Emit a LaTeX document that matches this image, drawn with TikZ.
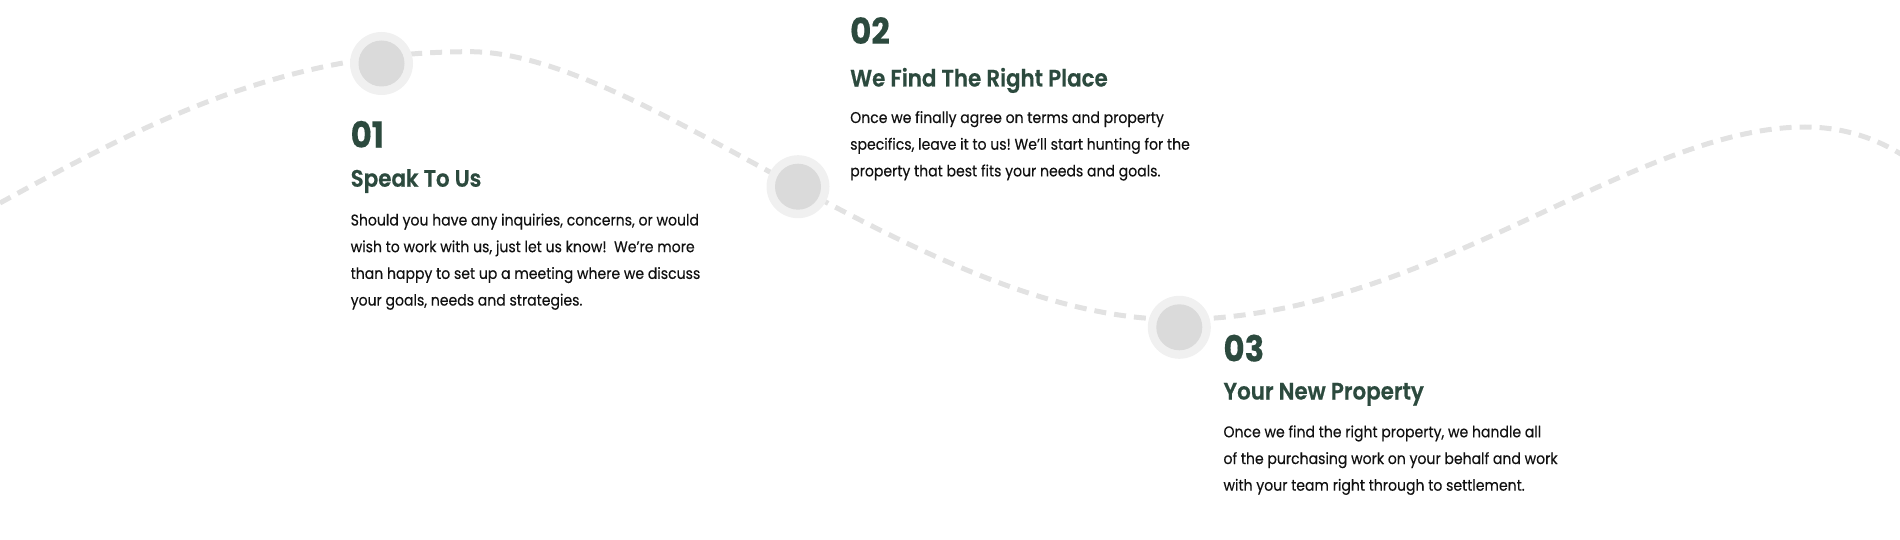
\documentclass[tikz,border=0pt]{standalone}
\usepackage{fontspec}
\setmainfont{Poppins}[FakeStretch=0.9, FakeBold=0.3]
\newfontfamily\headfont{Poppins SemiBold}[FakeStretch=0.9, FakeBold=0.6]
\frenchspacing
\definecolor{headgreen}{HTML}{2C4A3E}
\definecolor{bodytext}{HTML}{111111}
\definecolor{wavegrey}{HTML}{E2E2E2}
\definecolor{ringgrey}{HTML}{F0F0F0}
\definecolor{dotgrey}{HTML}{DADADA}
\tikzset{
  wave/.style={draw=wavegrey, line width=5pt, dash pattern=on 12pt off 8pt},
  ring/.style={circle, fill=ringgrey, minimum size=63pt, inner sep=0pt},
  dot/.style={circle, fill=dotgrey, minimum size=46pt, inner sep=0pt},
  num/.style={anchor=base west, inner sep=0pt, text=headgreen, font=\fontsize{36}{36}\selectfont\bfseries},
  head/.style={anchor=base west, inner sep=0pt, text=headgreen, font=\fontsize{23.8}{24}\headfont},
  body/.style={anchor=base west, inner sep=0pt, text=bodytext, font=\fontsize{15.6}{26.7}\selectfont},
}
\begin{document}
\begin{tikzpicture}[x=1pt,y=-1pt]
\useasboundingbox (0,0) rectangle (1900,540);
\begin{scope}
\clip (0,0) rectangle (1900,540);
\draw[wave] (0,203) .. controls (160,115) and (290,51.7) .. (470,51.7)
  .. controls (643,51.7) and (928,319.5) .. (1177,319.5)
  .. controls (1424,319.5) and (1633,127) .. (1805,127)
  .. controls (1860,127) and (1900,150) .. (1930,175);
\end{scope}
% step markers
\node[ring] (r1) at (381.5,63.5) {};
\node[dot] (d1) at (r1.center) {};
\node[ring] (r2) at (798,186.7) {};
\node[dot] (d2) at (r2.center) {};
\node[ring] (r3) at (1179.3,327.3) {};
\node[dot] (d3) at (r3.center) {};
% step 1
\node[num] (n1) at (350.5,147.7) {01};
\node[head] (h1) at (350.5,186.7) {Speak To Us};
\node[body] (b1) at (350.5,225.5) {\parbox[t]{420pt}{Should you have any inquiries, concerns, or would\\
wish to work with us, just let us know!\ \ We're more\\
than happy to set up a meeting where we discuss\\
your goals, needs and strategies.}};
% step 2
\node[num] (n2) at (850,44) {02};
\node[head] (h2) at (850,86.5) {We Find The Right Place};
\node[body] (b2) at (850,123) {\parbox[t]{420pt}{Once we finally agree on terms and property\\
specifics, leave it to us! We’ll start hunting for the\\
property that best fits your needs and goals.}};
% step 3
\node[num] (n3) at (1223.3,361.5) {03};
\node[head] (h3) at (1223.3,399.5) {Your New Property};
\node[body] (b3) at (1223.3,437.3) {\parbox[t]{420pt}{Once we find the right property, we handle all\\
of the purchasing work on your behalf and work\\
with your team right through to settlement.}};
\end{tikzpicture}
\end{document}
